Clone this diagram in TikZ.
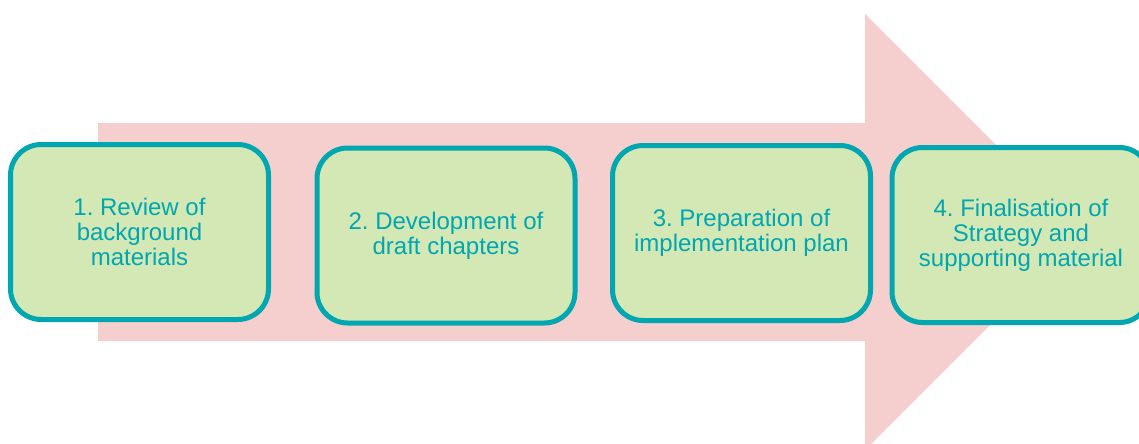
\documentclass[tikz,border=0pt]{standalone}
\usepackage{fontspec}
\setmainfont{Liberation Sans}
\frenchspacing
\definecolor{arrowpink}{HTML}{F5CFCD}
\definecolor{boxgreen}{HTML}{D3E8B4}
\definecolor{tealc}{HTML}{00A6B0}
\tikzset{
  stepbox/.style={draw=tealc, line width=3.75pt, fill=boxgreen, rounded corners=23pt,
    minimum width=193.5pt, minimum height=131.25pt, align=center, text=tealc,
    font=\fontsize{18pt}{18.75pt}\selectfont\frenchspacing, inner sep=0pt}
}
\begin{document}
\begin{tikzpicture}[x=0.75pt,y=-0.75pt]
\useasboundingbox (0,0) rectangle (1139,443);
\fill[arrowpink] (98,123) -- (865,123) -- (865,14) -- (1083,232) -- (865,450) -- (865,341) -- (98,341) -- cycle;
\node[stepbox] (s1) at (139.5,232) {1. Review of\\background\\materials};
\node[stepbox] (s2) at (446,235.5) {2. Development of\\draft chapters};
\node[stepbox] (s3) at (741.5,233) {3. Preparation of\\implementation plan};
\node[stepbox] (s4) at (1021,235) {4. Finalisation of\\Strategy and\\supporting material};
\end{tikzpicture}
\end{document}
